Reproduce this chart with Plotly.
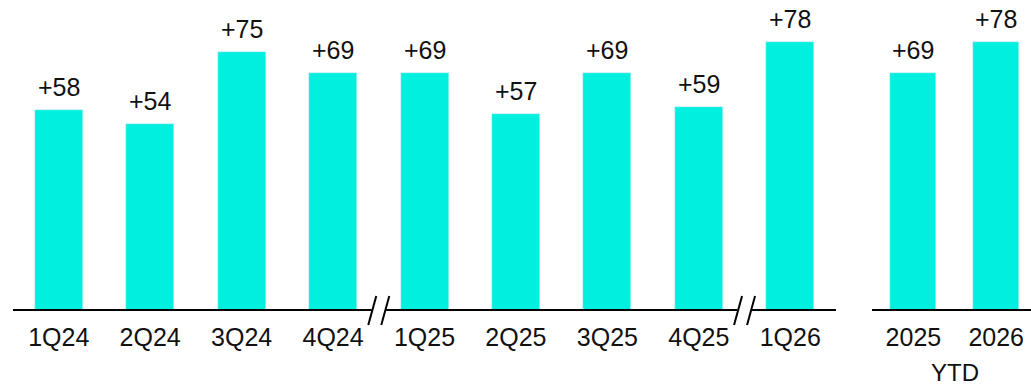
import plotly.graph_objects as go

# Quarterly figures and year-to-date comparison
quarters = ["1Q24", "2Q24", "3Q24", "4Q24", "1Q25", "2Q25", "3Q25", "4Q25", "1Q26"]
quarter_vals = [58, 54, 75, 69, 69, 57, 69, 59, 78]
ytd_years = ["2025", "2026"]
ytd_vals = [69, 78]
ytd_caption = "YTD"
# axis breaks sit between these category positions
break_positions = [3.5, 7.5]

BAR_COLOR = "#00EFDF"
INK = "#111111"
FONT = "Liberation Sans, Arial, sans-serif"

# page geometry (pixels)
W, H = 1031, 387
BASE_PX = 310          # y pixel of the zero line
LEFT_X0, LEFT_X1 = 13, 836
RIGHT_X0, RIGHT_X1 = 872, 1031
LEFT_RANGE = [-0.5, 8.5]
RIGHT_RANGE = [-0.5, 1.42]
Y_MAX = 90.1

y_dom0 = (H - BASE_PX) / H


def left_px(c):
    return LEFT_X0 + (c - LEFT_RANGE[0]) / (LEFT_RANGE[1] - LEFT_RANGE[0]) * (LEFT_X1 - LEFT_X0)


def right_px(c):
    return RIGHT_X0 + (c - RIGHT_RANGE[0]) / (RIGHT_RANGE[1] - RIGHT_RANGE[0]) * (RIGHT_X1 - RIGHT_X0)


fig = go.Figure()
fig.add_trace(go.Bar(x=quarters, y=quarter_vals, marker_color=BAR_COLOR,
                     width=0.525, xaxis="x", yaxis="y", hoverinfo="skip"))
fig.add_trace(go.Bar(x=ytd_years, y=ytd_vals, marker_color=BAR_COLOR,
                     width=0.554, xaxis="x2", yaxis="y2", hoverinfo="skip"))

label_font = dict(size=25, color=INK, family=FONT)
annotations = []
for i, v in enumerate(quarter_vals):
    annotations.append(dict(x=i, y=v, xref="x", yref="y", text=f"+{v}", showarrow=False,
                            yanchor="bottom", yshift=7, font=label_font))
for i, v in enumerate(ytd_vals):
    annotations.append(dict(x=i, y=v, xref="x2", yref="y2", text=f"+{v}", showarrow=False,
                            yanchor="bottom", yshift=7, font=label_font))
annotations.append(dict(x=(right_px(0) + right_px(1)) / 2 / W, y=(H - 372) / H, xref="paper", yref="paper",
                        text=ytd_caption, showarrow=False, xanchor="center", yanchor="middle",
                        font=dict(size=24, color=INK, family=FONT)))

# baseline segments, broken at the axis breaks
shapes = []
line_style = dict(color="black", width=2)
ybase = (H - BASE_PX) / H
cuts = [LEFT_X0]
for b in break_positions:
    cx = left_px(b)
    cuts += [cx - 7, cx + 7]
cuts.append(LEFT_X1)
for a, b in zip(cuts[0::2], cuts[1::2]):
    shapes.append(dict(type="line", xref="paper", yref="paper", x0=a / W, x1=b / W,
                       y0=ybase, y1=ybase, line=line_style))
shapes.append(dict(type="line", xref="paper", yref="paper", x0=RIGHT_X0 / W, x1=RIGHT_X1 / W,
                   y0=ybase, y1=ybase, line=line_style))
# double-slash break marks
for b in break_positions:
    cx = left_px(b)
    for off in (-6.5, 6.5):
        shapes.append(dict(type="line", xref="paper", yref="paper",
                           x0=(cx + off - 4) / W, y0=(H - (BASE_PX + 15)) / H,
                           x1=(cx + off + 4) / W, y1=(H - (BASE_PX - 14)) / H,
                           line=dict(color="black", width=2)))

axis_common = dict(showgrid=False, zeroline=False, showline=False, ticks="",
                   ticklabelstandoff=10,
                   tickfont=dict(size=25, color=INK, family=FONT), fixedrange=True)

fig.update_layout(
    width=W, height=H,
    margin=dict(l=0, r=0, t=0, b=0),
    paper_bgcolor="white", plot_bgcolor="white",
    showlegend=False, bargap=0,
    xaxis=dict(domain=[LEFT_X0 / W, LEFT_X1 / W], range=LEFT_RANGE, type="category",
               anchor="y", **axis_common),
    xaxis2=dict(domain=[RIGHT_X0 / W, RIGHT_X1 / W], range=RIGHT_RANGE, type="category",
                anchor="y2", **axis_common),
    yaxis=dict(domain=[y_dom0, 1], range=[0, Y_MAX], visible=False, anchor="x"),
    yaxis2=dict(domain=[y_dom0, 1], range=[0, Y_MAX], visible=False, anchor="x2"),
    annotations=annotations,
    shapes=shapes,
)

fig.write_html("out.html")
